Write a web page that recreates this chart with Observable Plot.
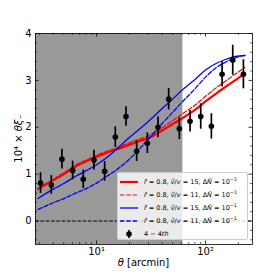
<!DOCTYPE html>
<html>
<head>
<meta charset="utf-8">
<script src="https://cdn.jsdelivr.net/npm/d3@7"></script>
<script src="https://cdn.jsdelivr.net/npm/@observablehq/plot@0.6"></script>
<style>
  html, body { margin: 0; padding: 0; background: white; }
  #wrap { position: relative; width: 280px; height: 280px; font-family: "DejaVu Sans", sans-serif; }
  #legend { position: absolute; left: 117px; top: 172px; width: 131px; height: 68px;
    background: rgba(255,255,255,0.8); border: 1px solid #cccccc; border-radius: 2px;
    box-sizing: border-box; font-size: 6.5px; color: black; padding-top: 3px; }
  .row { height: 12.8px; display: flex; align-items: center; white-space: nowrap; }
  .row svg { width: 22px; height: 10px; margin-left: 1px; margin-right: 3px; flex: none; }
  sup { font-size: 4.8px; vertical-align: 3px; line-height: 0; }
</style>
</head>
<body>
<div id="wrap"><div id="legend"></div></div>
<script>
// measured points (4-4th)
const thetaPts = [3.06,3.84,4.81,6.03,7.55,9.46,11.86,14.86,18.62,23.33,29.24,36.64,45.9,57.5,72.1,90.4,113.2,141.9,177.8,222.8];
const xiPts = [0.81,0.77,1.32,1.08,0.89,1.30,1.06,1.79,2.23,1.49,1.66,2.0,2.60,1.97,2.13,2.23,2.02,3.13,3.43,3.13];
const errPts = [0.22,0.20,0.21,0.20,0.20,0.21,0.21,0.22,0.21,0.22,0.22,0.22,0.23,0.23,0.23,0.27,0.27,0.27,0.32,0.31];

// model curves
const thetaModel = [2.9,4,5,6.5,8,10,12.5,15,20,25,30,40,50,60,80,100,125,150,200,230];
const redSolid  = [0.68,0.87,1.00,1.17,1.27,1.37,1.46,1.52,1.63,1.71,1.77,1.93,2.07,2.18,2.37,2.55,2.72,2.85,3.05,3.15];
const redDashed = [0.70,0.89,1.03,1.20,1.30,1.40,1.49,1.55,1.67,1.75,1.82,1.99,2.14,2.27,2.47,2.66,2.84,2.97,3.18,3.28];
const blueSolid = [0.48,0.68,0.80,0.96,1.07,1.20,1.36,1.52,1.78,1.97,2.13,2.40,2.60,2.78,3.02,3.22,3.36,3.44,3.52,3.53];
const blueDashed= [0.25,0.39,0.48,0.60,0.69,0.81,0.96,1.08,1.32,1.55,1.75,2.08,2.32,2.52,2.82,3.07,3.27,3.38,3.50,3.54];

// shaded (excluded) scale range
const shadeRange = [2.75, 62];

// axes
const xDomain = [2.75, 270];
const yDomain = [-0.5, 4];
const xMajorTicks = [10, 100];
const xTickLabels = ["10¹", "10²"];
const xMinorTicks = [3,4,5,6,7,8,9,20,30,40,50,60,70,80,90,200];
const yMajorTicks = [0,1,2,3,4];
const yTickLabels = ["0","1","2","3","4"];
const yMinorTicks = [-0.4,-0.2,0.2,0.4,0.6,0.8,1.2,1.4,1.6,1.8,2.2,2.4,2.6,2.8,3.2,3.4,3.6,3.8];
const xLabel = ["θ", " [arcmin]"];
const yLabel = ["10⁴ × ", "θξ", "₋"];

const legendLabels = [
  '<i>r̂</i> = 0.8, <i>v̂</i>/<i>v</i> = 15, Δ<i>N̂</i> = 10<sup>−3</sup>',
  '<i>r̂</i> = 0.8, <i>v̂</i>/<i>v</i> = 11, Δ<i>N̂</i> = 10<sup>−3</sup>',
  '<i>r̂</i> = 0.8, <i>v̂</i>/<i>v</i> = 15, Δ<i>N̂</i> = 10<sup>−1</sup>',
  '<i>r̂</i> = 0.8, <i>v̂</i>/<i>v</i> = 11, Δ<i>N̂</i> = 10<sup>−1</sup>',
  '4 − 4<i>th</i>'
];

const W = 280, H = 280, mL = 35, mR = 28, mT = 33, mB = 36;
const pW = W - mL - mR, pH = H - mT - mB;

const points = thetaPts.map((t, i) => ({t, v: xiPts[i], e: errPts[i]}));
const mk = (arr) => thetaModel.map((t, i) => ({t, v: arr[i]}));
const curves = [
  {data: mk(redSolid), stroke: "red", w: 2.2, dash: null},
  {data: mk(redDashed), stroke: "red", w: 1.2, dash: "4.4,1.9"},
  {data: mk(blueSolid), stroke: "blue", w: 1.3, dash: null},
  {data: mk(blueDashed), stroke: "blue", w: 1.3, dash: "4.4,1.9"}
];

const chart = Plot.plot({
  width: W, height: H,
  marginLeft: mL, marginRight: mR, marginTop: mT, marginBottom: mB,
  x: {type: "log", domain: xDomain},
  y: {domain: yDomain},
  style: {fontFamily: "DejaVu Sans", fontSize: "10px", background: "white", color: "black"},
  marks: [
    Plot.rect([{a: shadeRange[0], b: shadeRange[1]}], {x1: "a", x2: "b", fill: "#999999"}),
    Plot.ruleY([0], {stroke: "black", strokeWidth: 1, strokeDasharray: "3.7,1.6"}),
    ...curves.map(c => Plot.line(c.data, {x: "t", y: "v", stroke: c.stroke, strokeWidth: c.w, strokeDasharray: c.dash, curve: "monotone-x"})),
    Plot.ruleX(points, {x: "t", y1: d => d.v - d.e, y2: d => d.v + d.e, stroke: "black", strokeWidth: 1.7}),
    Plot.dot(points, {x: "t", y: "v", r: 2.8, fill: "black"}),
    // inward ticks
    Plot.tickX(xMajorTicks, {x: d => d, insetTop: pH - 3.5, stroke: "black", strokeWidth: 0.8}),
    Plot.tickX(xMajorTicks, {x: d => d, insetBottom: pH - 3.5, stroke: "black", strokeWidth: 0.8}),
    Plot.tickX(xMinorTicks, {x: d => d, insetTop: pH - 2, stroke: "black", strokeWidth: 0.6}),
    Plot.tickX(xMinorTicks, {x: d => d, insetBottom: pH - 2, stroke: "black", strokeWidth: 0.6}),
    Plot.tickY(yMajorTicks, {y: d => d, insetRight: pW - 3.5, stroke: "black", strokeWidth: 0.8}),
    Plot.tickY(yMajorTicks, {y: d => d, insetLeft: pW - 3.5, stroke: "black", strokeWidth: 0.8}),
    Plot.tickY(yMinorTicks, {y: d => d, insetRight: pW - 2, stroke: "black", strokeWidth: 0.6}),
    Plot.tickY(yMinorTicks, {y: d => d, insetLeft: pW - 2, stroke: "black", strokeWidth: 0.6}),
    Plot.frame({stroke: "black", strokeWidth: 0.8}),
    Plot.axisX({ticks: xMajorTicks, tickFormat: (d) => xTickLabels[xMajorTicks.indexOf(d)], tickSize: 0, tickPadding: 3, label: null, fontSize: 10}),
    Plot.axisY({ticks: yMajorTicks, tickFormat: (d) => yTickLabels[yMajorTicks.indexOf(d)], tickSize: 0, tickPadding: 4, label: null, fontSize: 10})
  ]
});
document.getElementById("wrap").prepend(chart);

// axis titles (with italic math symbols)
const svg = d3.select(chart.tagName.toLowerCase() === "svg" ? chart : chart.querySelector("svg"));
const xt = svg.append("text")
  .attr("x", mL + pW / 2).attr("y", H - mB + 18).attr("dy", "0.35em")
  .attr("text-anchor", "middle").attr("font-size", 10).attr("fill", "black");
xt.append("tspan").attr("font-style", "italic").text(xLabel[0]);
xt.append("tspan").text(xLabel[1]);
const yt = svg.append("text")
  .attr("transform", `translate(18,${mT + pH / 2}) rotate(-90)`).attr("dy", "0.35em")
  .attr("text-anchor", "middle").attr("font-size", 10).attr("fill", "black");
yt.append("tspan").text(yLabel[0]);
yt.append("tspan").attr("font-style", "italic").text(yLabel[1]);
yt.append("tspan").text(yLabel[2]);

// legend
const legend = document.getElementById("legend");
const handles = [
  '<line x1="1" x2="19" y1="5" y2="5" stroke="red" stroke-width="2.2"/>',
  '<line x1="1" x2="19" y1="5" y2="5" stroke="red" stroke-width="1.2" stroke-dasharray="4.4,1.9"/>',
  '<line x1="1" x2="19" y1="5" y2="5" stroke="blue" stroke-width="1.3"/>',
  '<line x1="1" x2="19" y1="5" y2="5" stroke="blue" stroke-width="1.3" stroke-dasharray="4.4,1.9"/>',
  '<line x1="10" x2="10" y1="1" y2="9" stroke="black" stroke-width="1.7"/><circle cx="10" cy="5" r="2.8" fill="black"/>'
];
legendLabels.forEach((lab, i) => {
  const row = document.createElement("div");
  row.className = "row";
  row.innerHTML = `<svg viewBox="0 0 22 10">${handles[i]}</svg><span>${lab}</span>`;
  legend.appendChild(row);
});
</script>
</body>
</html>
